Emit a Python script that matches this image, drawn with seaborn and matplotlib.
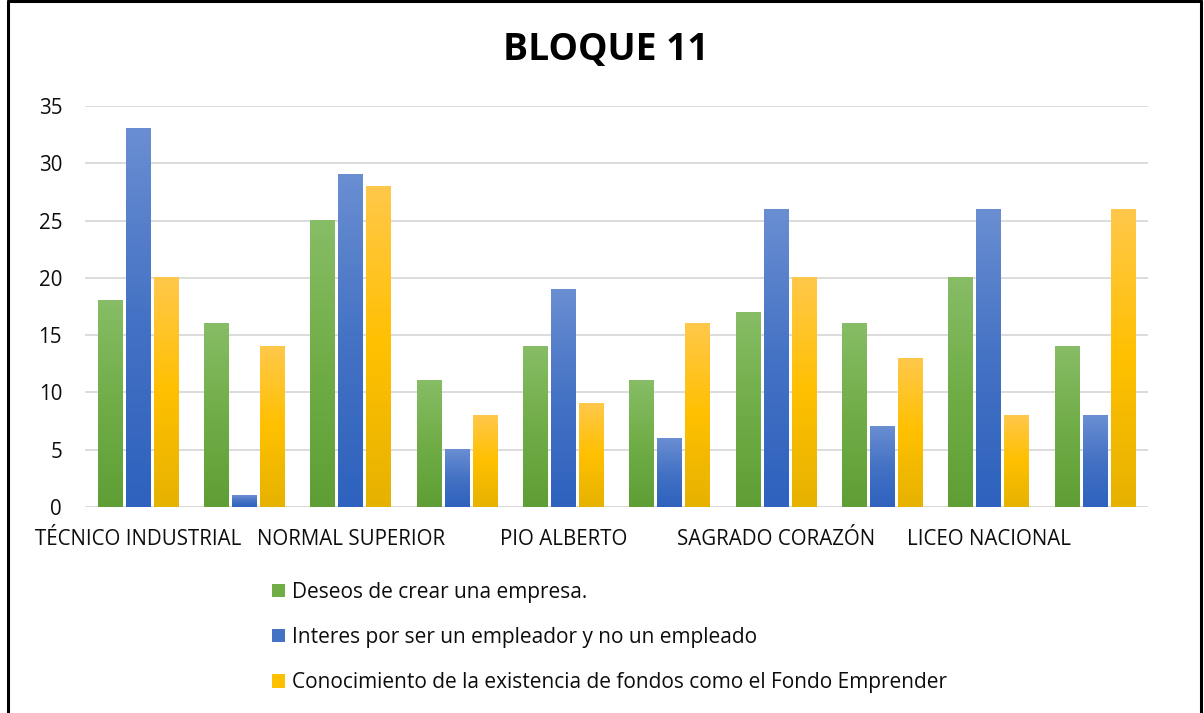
import numpy as np
import pandas as pd
import matplotlib
matplotlib.use("Agg")
import matplotlib.pyplot as plt
import seaborn as sns
from matplotlib.patches import Patch
from matplotlib.lines import Line2D
from matplotlib.colors import LinearSegmentedColormap, to_hex

schools = ["TÉCNICO INDUSTRIAL", "G2", "NORMAL SUPERIOR", "G4", "PIO ALBERTO", "G6",
           "SAGRADO CORAZÓN", "G8", "LICEO NACIONAL", "G10"]
tick_labels = ["TÉCNICO INDUSTRIAL", "", "NORMAL SUPERIOR", "", "PIO ALBERTO", "",
               "SAGRADO CORAZÓN", "", "LICEO NACIONAL", ""]
series_names = ["Deseos de crear una empresa.",
                "Interes por ser un empleador y no un empleado",
                "Conocimiento de la existencia de fondos como el Fondo Emprender"]
deseos = [18, 16, 25, 11, 14, 11, 17, 16, 20, 14]
interes = [33, 1, 29, 5, 19, 6, 26, 7, 26, 8]
conocimiento = [20, 14, 28, 8, 9, 16, 20, 13, 8, 26]

base_colors = ["#70ad47", "#4472c4", "#ffc000"]
grad_stops = [("#87bd66", "#70ad47", "#5f9e35"),
              ("#6a8ed2", "#4472c4", "#2e62be"),
              ("#ffc84a", "#ffc000", "#e6b200")]

df = pd.DataFrame({
    "school": schools * 3,
    "value": deseos + interes + conocimiento,
    "serie": [series_names[0]] * 10 + [series_names[1]] * 10 + [series_names[2]] * 10,
})

sns.set_theme(style="white")
plt.rcParams["font.family"] = ["Open Sans", "DejaVu Sans"]

fig = plt.figure(figsize=(12.04, 7.13), dpi=100)
ax = fig.add_axes([85 / 1204, 1 - 507 / 713, (1148 - 85) / 1204, (507 - 106) / 713])

sns.barplot(data=df, x="school", y="value", hue="serie", hue_order=series_names,
            palette=base_colors, width=0.79, gap=0.12, legend=False, ax=ax,
            errorbar=None, saturation=1)

ax.set_ylim(0, 35)
ax.set_xlim(-0.5, 9.5)
ax.set_yticks(range(0, 36, 5))
ax.yaxis.grid(True, color="#d9d9d9", linewidth=1.3)
ax.set_axisbelow(True)
for s in ax.spines.values():
    s.set_visible(False)
ax.axhline(0, color="#d9d9d9", linewidth=1.3, zorder=0.5)
ax.set_xlabel("")
ax.set_ylabel("")
ax.set_xticks(range(10))
ax.set_xticklabels(tick_labels, fontsize=14.8, color="#0d0d0d")
ax.tick_params(axis="x", length=0, pad=15.5)
ax.tick_params(axis="y", length=0, pad=16.5, labelsize=14.8, labelcolor="#0d0d0d")

# gradient fill per bar
cmaps = [LinearSegmentedColormap.from_list(f"g{i}", [s[2], s[1], s[0]]) for i, s in enumerate(grad_stops)]
grad = np.linspace(0, 1, 256).reshape(-1, 1)
for p in list(ax.patches):
    fc = to_hex(p.get_facecolor())
    if fc not in base_colors:
        continue
    idx = base_colors.index(fc)
    x0, y0, w, h = p.get_x(), p.get_y(), p.get_width(), p.get_height()
    ax.imshow(grad, extent=[x0, x0 + w, y0, y0 + h], origin="lower", aspect="auto",
              cmap=cmaps[idx], zorder=2, interpolation="bilinear")
    p.set_visible(False)
ax.set_xlim(-0.5, 9.5)
ax.set_ylim(0, 35)

fig.text(0.5035, 1 - 50 / 713, "BLOQUE 11", ha="center", va="center",
         fontsize=26.8, fontweight="bold", color="#000000")

handles = [Patch(facecolor=c, edgecolor="none") for c in base_colors]
fig.legend(handles=handles, labels=series_names, loc="upper left",
           bbox_to_anchor=(253 / 1204, 1 - 563 / 713), frameon=False,
           fontsize=15, labelspacing=1.16, handlelength=0.62, handleheight=0.62,
           handletextpad=0.34, labelcolor="#0d0d0d")

# outer border
fig.add_artist(Line2D([8 / 1204, 8 / 1204], [0, 1 - 1 / 713], transform=fig.transFigure, color="black", linewidth=2.2))
fig.add_artist(Line2D([1201 / 1204, 1201 / 1204], [0, 1 - 1 / 713], transform=fig.transFigure, color="black", linewidth=2.2))
fig.add_artist(Line2D([8 / 1204, 1201 / 1204], [1 - 1 / 713, 1 - 1 / 713], transform=fig.transFigure, color="black", linewidth=2.2))

fig.savefig("out.png", dpi=100)
